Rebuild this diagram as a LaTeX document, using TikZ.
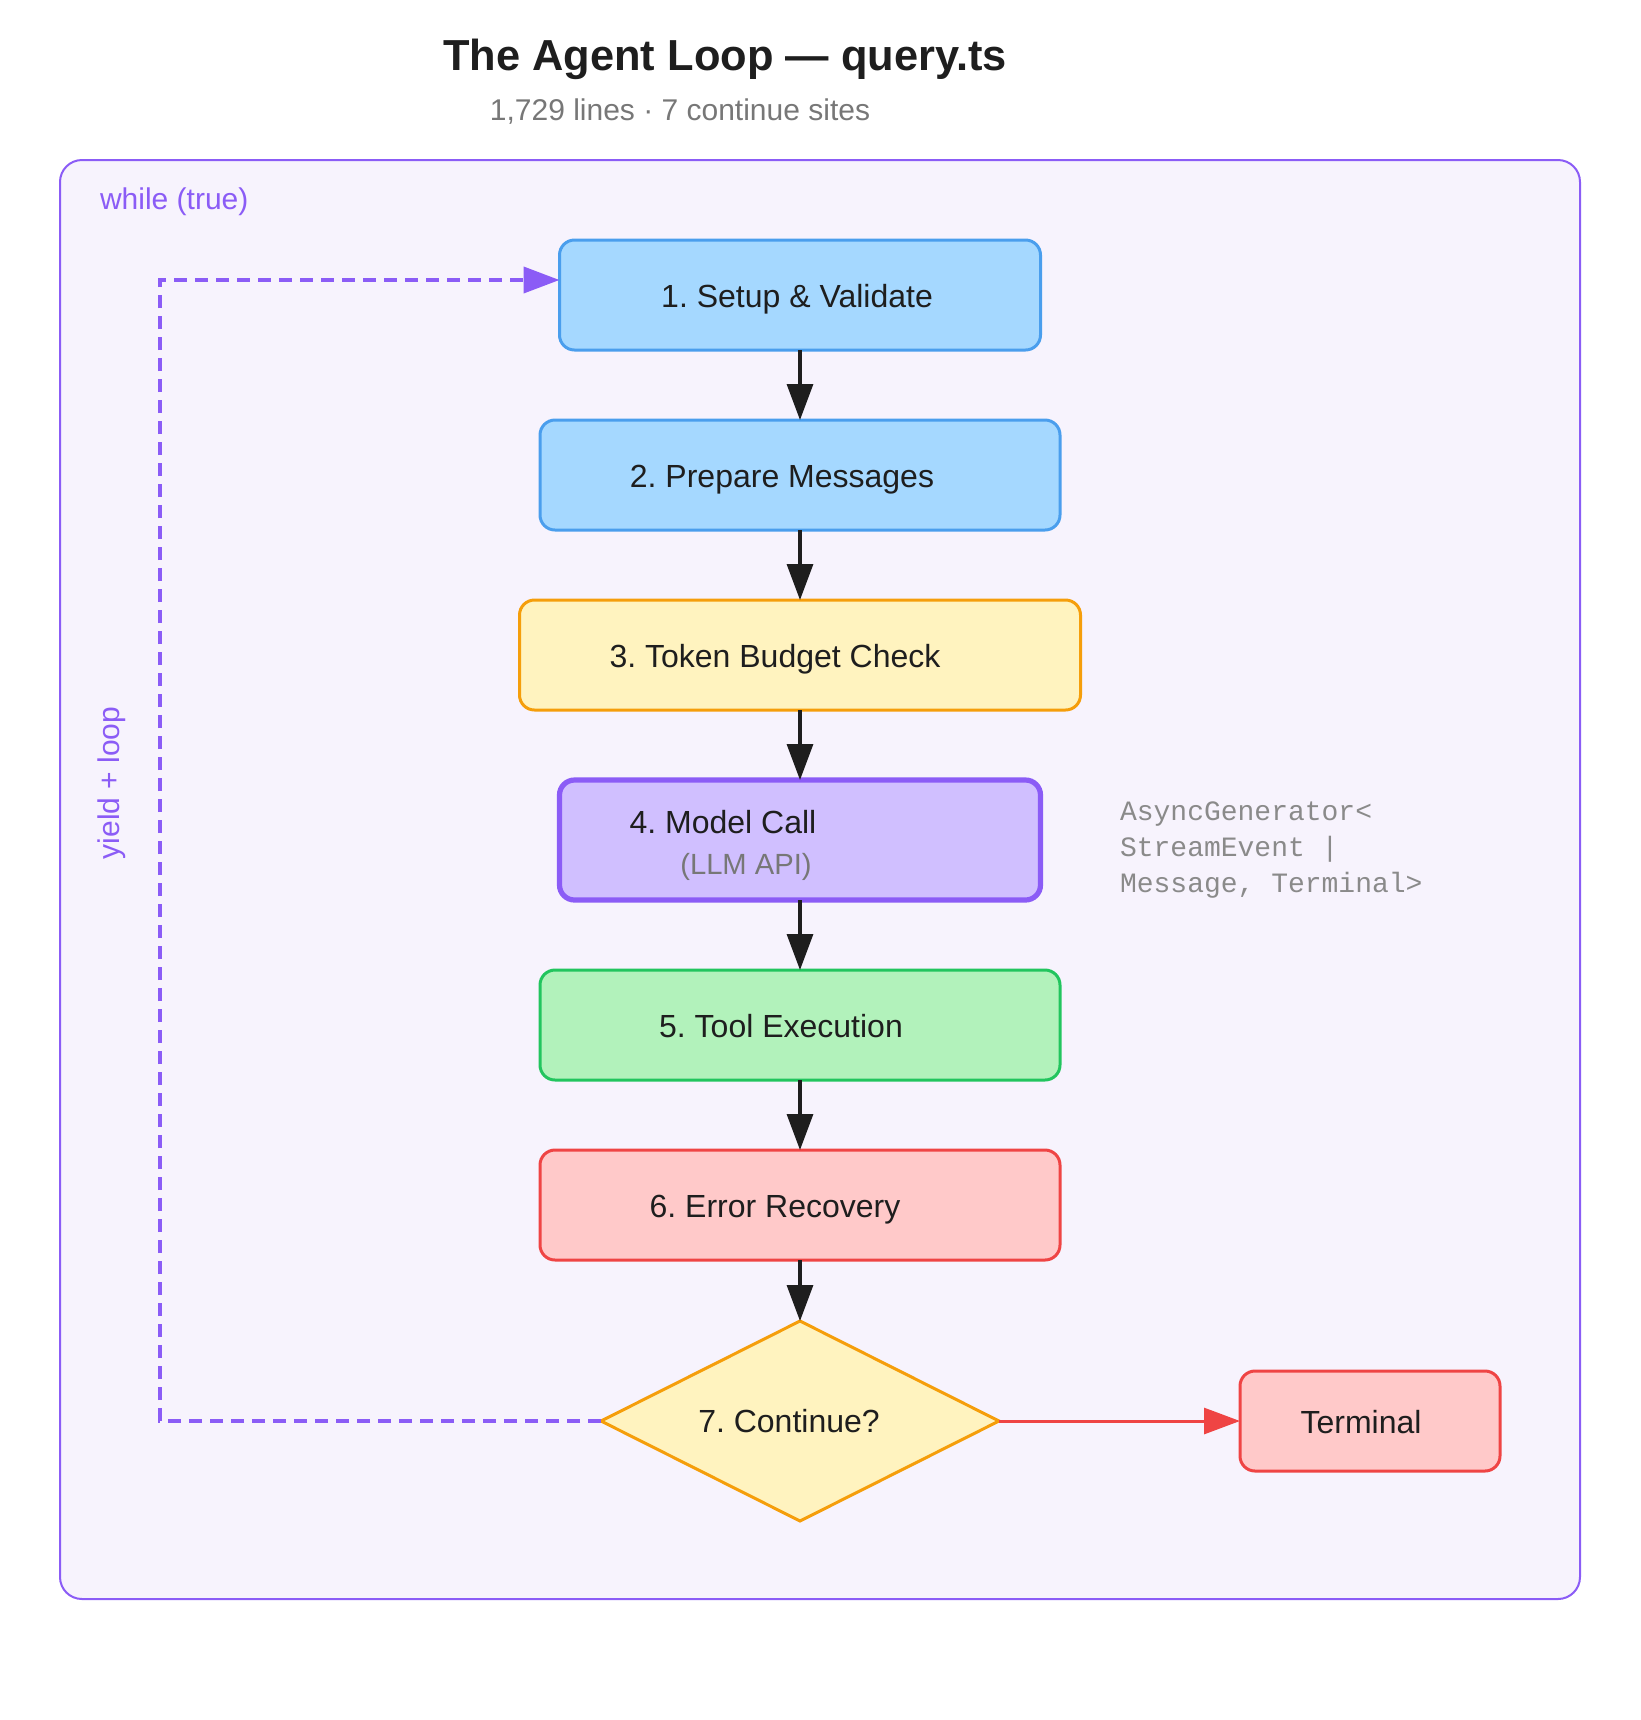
\documentclass[tikz,border=0pt]{standalone}
\usepackage{fontspec}
\setmainfont{Liberation Sans}
\setmonofont{Liberation Mono}
\usepackage{xcolor}
\definecolor{Ink}{HTML}{1E1E1E}
\definecolor{Muted}{HTML}{777777}
\definecolor{Faint}{HTML}{8A8A8A}
\definecolor{Violet}{HTML}{8B5CF6}
\definecolor{Lilac}{HTML}{D0BFFF}
\definecolor{Haze}{HTML}{F7F3FD}
\definecolor{Sky}{HTML}{A5D8FF}
\definecolor{Azure}{HTML}{4A9EED}
\definecolor{Cream}{HTML}{FFF3BF}
\definecolor{Amber}{HTML}{F59E0B}
\definecolor{Mint}{HTML}{B2F2BB}
\definecolor{Leaf}{HTML}{22C55E}
\definecolor{Rose}{HTML}{FFC9C9}
\definecolor{Scarlet}{HTML}{EF4444}
\usepackage{tikz}
\usetikzlibrary{arrows.meta,positioning,shapes.geometric}
\newcommand{\padr}[1]{\hbox to #1{}}

\begin{document}
\begin{tikzpicture}[x=0.5pt,y=0.5pt,node distance=35pt,
  every node/.style={font=\fontsize{16}{20.5}\selectfont\frenchspacing,text=Ink,align=center},
  stage/.style={draw,rounded corners=7.5pt,line width=1.5pt,minimum height=55pt,inner sep=0pt,outer sep=0pt,text height=12pt,text depth=0pt},
  flow/.style={-{Triangle[length=18pt,width=13pt]},line width=1.6pt,draw=Ink}]
\useasboundingbox (0,0) rectangle (1640,-1720);
\draw[draw=Violet,fill=Haze,line width=1pt,rounded corners=11pt] (60,-160) rectangle (1580,-1599);
\node[font=\fontsize{21.7}{26}\selectfont\bfseries] (title) at (725,-59) {The Agent Loop — query.ts};
\node[font=\fontsize{15}{18}\selectfont\frenchspacing,text=Muted] (sub) at (680,-112) {1,729 lines · 7 continue sites};
\node[font=\fontsize{15}{18}\selectfont,text=Violet,anchor=west] (wt) at (93,-202) {while (true)};
\node[font=\fontsize{15}{18}\selectfont,text=Violet,rotate=90] (yl) at (112,-783) {yield + loop};
\node[stage,draw=Azure,fill=Sky,minimum width=240.5pt] (st) at (800,-295) {1. Setup \& Validate\padr{3pt}};
\node[stage,draw=Azure,fill=Sky,minimum width=260pt,below=of st] (pm) {2. Prepare Messages\padr{18pt}};
\node[stage,draw=Amber,fill=Cream,minimum width=280.5pt,below=of pm] (tb) {3. Token Budget Check\padr{25pt}};
\node[stage,draw=Violet,fill=Lilac,line width=2.6pt,minimum width=240.5pt,minimum height=60pt,text height=34pt,below=of tb] (mc)
  {4. Model Call\padr{77pt}\\{\fontsize{14.6}{20.5}\selectfont\color{Muted}(LLM API)\padr{54pt}}};
\node[stage,draw=Leaf,fill=Mint,minimum width=260pt,below=of mc] (te) {5. Tool Execution\padr{19pt}};
\node[stage,draw=Scarlet,fill=Rose,minimum width=260pt,below=of te] (er) {6. Error Recovery\padr{25pt}};
\node[diamond,aspect=2,draw=Amber,fill=Cream,line width=1.5pt,minimum width=199pt,minimum height=100pt,inner sep=0pt,outer sep=0pt,below=30.5pt of er] (co) {7. Continue?\padr{11pt}};
\node[stage,draw=Scarlet,fill=Rose,minimum width=130pt,minimum height=50pt,right=120.5pt of co] (tm) {Terminal\padr{9pt}};
\node[font=\ttfamily\fontsize{14}{17.8}\selectfont,text=Faint,align=left,anchor=west] (sig) at (1113,-850) {AsyncGenerator<\\StreamEvent |\\Message, Terminal>};
\draw[flow] (st) -- (pm);
\draw[flow] (pm) -- (tb);
\draw[flow] (tb) -- (mc);
\draw[flow] (mc) -- (te);
\draw[flow] (te) -- (er);
\draw[flow] (er) -- (co);
\draw[flow,draw=Scarlet,line width=1.5pt] (co) -- (tm);
\coordinate (rail) at (160,-1420);
\draw[flow,draw=Violet,line width=2pt,dash pattern=on 6.5pt off 4pt] (co.west) -- (co.west -| rail) |- ([yshift=7.5pt]st.west);
\end{tikzpicture}
\end{document}
